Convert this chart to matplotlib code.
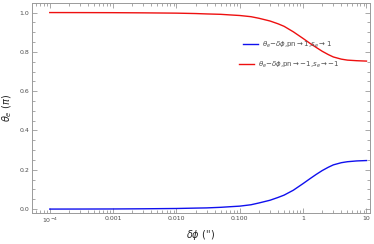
import matplotlib
matplotlib.use("Agg")
import matplotlib.pyplot as plt
from matplotlib.ticker import FixedLocator, FixedFormatter, MultipleLocator

# values
dphi = [1e-4, 3e-4, 1e-3, 3e-3, 0.01, 0.02, 0.03, 0.05, 0.07, 0.1, 0.15, 0.2, 0.3,
        0.4, 0.5, 0.7, 1.0, 1.3, 1.6, 2.0, 2.5, 3.0, 4.0, 5.0, 7.0, 10.0]
theta_up = [0.0, 0.0002, 0.0006, 0.0015, 0.003, 0.005, 0.006, 0.009, 0.012, 0.015,
            0.022, 0.031, 0.045, 0.059, 0.071, 0.096, 0.13, 0.156, 0.176, 0.196, 0.213,
            0.225, 0.236, 0.241, 0.245, 0.247]
theta_down = [1.0, 0.9998, 0.9994, 0.9985, 0.997, 0.995, 0.993, 0.991, 0.988, 0.985,
              0.979, 0.971, 0.957, 0.943, 0.93, 0.902, 0.868, 0.842, 0.823, 0.803, 0.786,
              0.774, 0.763, 0.758, 0.755, 0.753]

xticks = [1e-4, 1e-3, 1e-2, 1e-1, 1, 10]
xticklabels = [r"$10^{-4}$", "0.001", "0.010", "0.100", "1", "10"]
label_up = r"$\theta_e$$-\delta\phi$,pn$\rightarrow$1,$s_e$$\rightarrow$1"
label_down = r"$\theta_e$$-\delta\phi$,pn$\rightarrow$$-$1,$s_e$$\rightarrow$$-$1"

frame_col = "#9a9a9a"
text_col = "#4d4d4d"

fig = plt.figure(figsize=(3.74, 2.44), dpi=100)
ax = fig.add_axes([0.0856, 0.127, 0.905, 0.861])

l1, = ax.plot(dphi, theta_up, color="#1010ee", lw=1.0)
l2, = ax.plot(dphi, theta_down, color="#ee1010", lw=1.0)

ax.set_xscale("log")
ax.set_xlim(10 ** -4.28, 10 ** 1.063)
ax.set_ylim(-0.02, 1.049)

ax.xaxis.set_major_locator(FixedLocator(xticks))
ax.xaxis.set_major_formatter(FixedFormatter(xticklabels))
ax.yaxis.set_major_locator(MultipleLocator(0.2))
ax.yaxis.set_minor_locator(MultipleLocator(0.05))
ax.yaxis.set_major_formatter(plt.FuncFormatter(lambda v, p: f"{v:.1f}"))

ax.tick_params(which="both", direction="in", top=True, right=True,
               color=frame_col, labelcolor=text_col, labelsize=4.5, width=0.6, pad=2)
ax.tick_params(which="major", length=3.5)
ax.tick_params(which="minor", length=2)
ax.xaxis.set_minor_formatter(plt.NullFormatter())
for s in ax.spines.values():
    s.set_color(frame_col)
    s.set_linewidth(0.7)

ax.set_xlabel(r"$\delta\phi$ ('')", fontsize=7, color="#222222", labelpad=2)
ax.set_ylabel(r"$\theta_e$ ($\pi$)", fontsize=7, color="#222222", labelpad=4)

leg1 = ax.legend([l1], [label_up], loc="center", bbox_to_anchor=(0.755, 0.8),
                 frameon=False, fontsize=5, handlelength=2.2, handletextpad=0.6,
                 labelcolor=text_col)
ax.add_artist(leg1)
ax.legend([l2], [label_down], loc="center", bbox_to_anchor=(0.76, 0.705),
          frameon=False, fontsize=5, handlelength=2.2, handletextpad=0.6,
          labelcolor=text_col)

fig.savefig("out.png", dpi=100)
